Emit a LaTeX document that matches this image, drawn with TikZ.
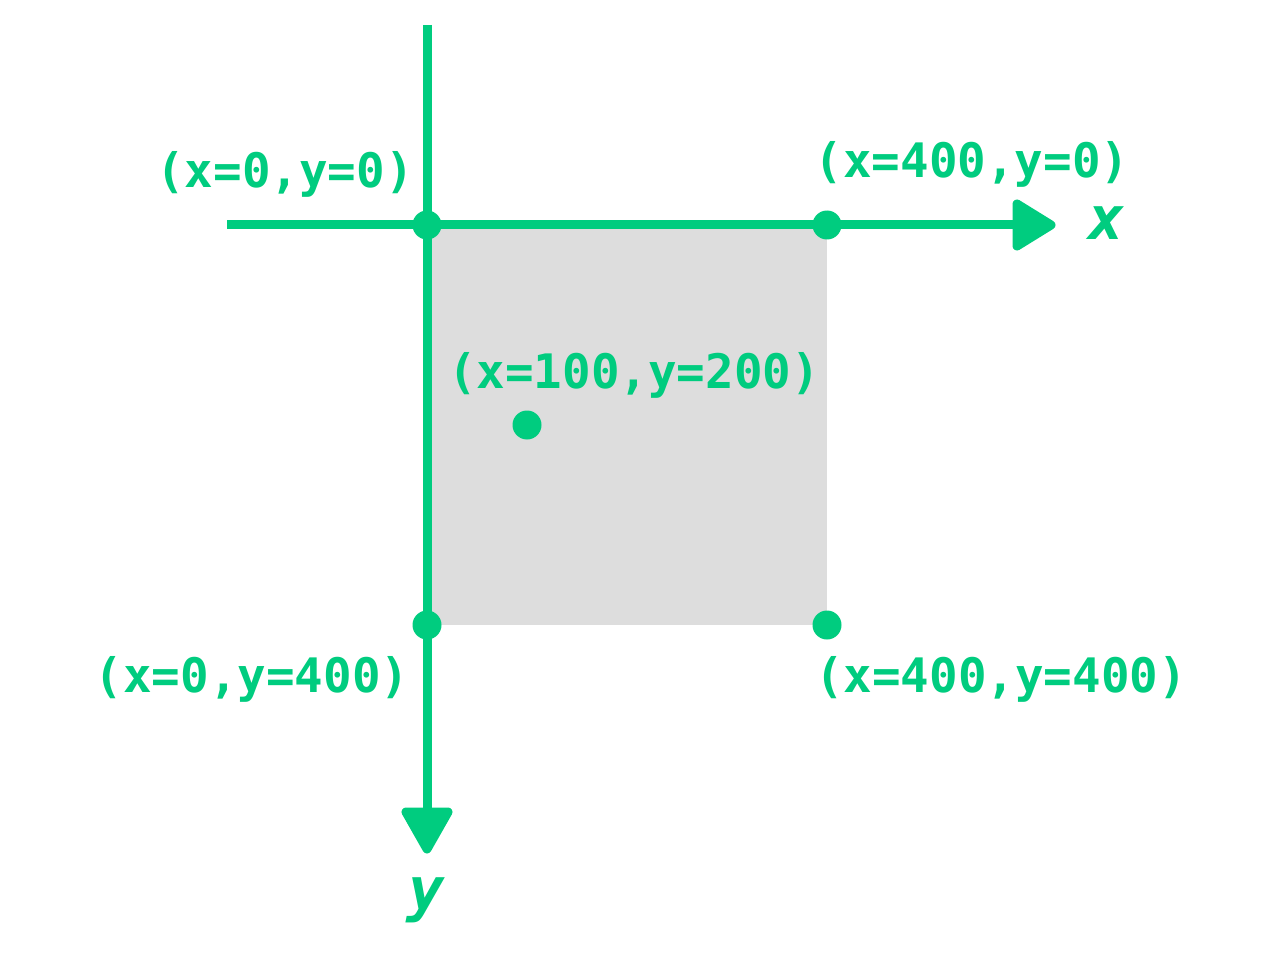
\documentclass[tikz,border=0pt]{standalone}
\usepackage{fontspec}
\setmonofont{DejaVu Sans Mono}
\definecolor{grn}{HTML}{00CC7F}
\definecolor{box}{HTML}{DDDDDD}
\begin{document}
\begin{tikzpicture}[x=1pt,y=-1pt,
  axis/.style={draw=grn,line width=9pt,line cap=butt},
  head/.style={fill=grn,draw=grn,line width=9pt,line join=round},
  dot/.style={circle,fill=grn,inner sep=0pt,minimum size=29pt},
  lbl/.style={text=grn,inner sep=0pt,anchor=base,font=\ttfamily\bfseries\fontsize{47.5}{56}\selectfont},
  axl/.style={text=grn,inner sep=0pt,anchor=base,font=\ttfamily\bfseries\itshape\fontsize{60}{70}\selectfont}]
\useasboundingbox (0,0) rectangle (1280,960);
\fill[white] (0,0) rectangle (1280,960);
\fill[box] (427,225) rectangle (827,625);
% axes
\coordinate (xs) at (227,225);
\coordinate (xe) at (1017,225);
\coordinate (ys) at (427,25);
\coordinate (ye) at (427,812);
\draw[axis] (xs) -- (xe);
\draw[axis] (ys) -- (ye);
\path[head] (1017,204) -- (1051,225) -- (1017,246) -- cycle;
\path[head] (406,812) -- (427,849) -- (448,812) -- cycle;
% dots
\node[dot] (p00) at (427,225) {};
\node[dot] (p40) at (827,225) {};
\node[dot] (p04) at (427,625) {};
\node[dot] (p44) at (827,625) {};
\node[dot] (p12) at (527,425) {};
% labels
\node[lbl] (l00) at (285,188) {(x=0,y=0)};
\node[lbl] (l40) at (972,178) {(x=400,y=0)};
\node[lbl] (l12) at (634,388) {(x=100,y=200)};
\node[lbl] (l04) at (252,692) {(x=0,y=400)};
\node[lbl] (l44) at (1001,692) {(x=400,y=400)};
\node[axl] (lx) at (1107,240) {x};
\node[axl] (ly) at (427,910) {y};
\end{tikzpicture}
\end{document}
